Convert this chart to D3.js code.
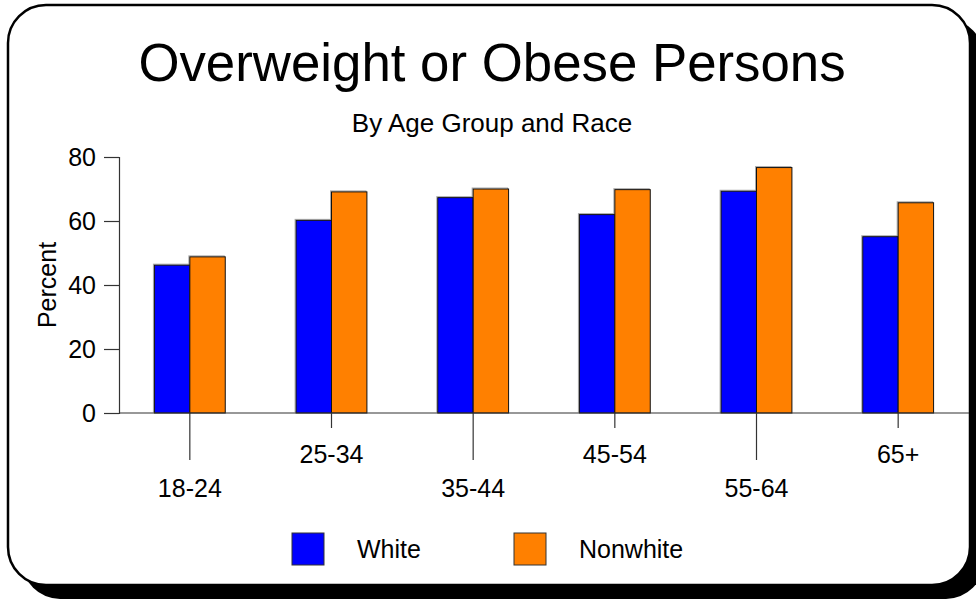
<!DOCTYPE html>
<html>
<head>
<meta charset="utf-8">
<script src="https://cdn.jsdelivr.net/npm/d3@7"></script>
<style>
  html, body { margin: 0; padding: 0; background: #fff; }
  svg { display: block; font-family: Arial, "Liberation Sans", Helvetica, sans-serif; }
</style>
</head>
<body>
<svg id="chart" width="976" height="600"></svg>
<script>
// Age groups and survey percentages by race
const ageGroups = ["18-24", "25-34", "35-44", "45-54", "55-64", "65+"];
const seriesNames = ["White", "Nonwhite"];
const whiteValues = [46.2, 60.2, 67.3, 62.0, 69.3, 55.1];
const nonwhiteValues = [48.8, 69.1, 70.0, 69.8, 76.7, 65.7];
const yTicks = [0, 20, 40, 60, 80];
const seriesColors = ["#0000ff", "#ff8000"];

const seriesValues = [whiteValues, nonwhiteValues];
const rows = ageGroups.map((g, i) => ({
  group: g,
  values: seriesNames.map((s, j) => ({ series: s, value: seriesValues[j][i], color: seriesColors[j] }))
}));

const svg = d3.select("#chart");

// Card with a drop shadow
svg.append("rect")
  .attr("x", 22).attr("y", 19).attr("width", 962).attr("height", 580)
  .attr("rx", 38).attr("ry", 38).attr("fill", "#000");
svg.append("rect")
  .attr("x", 8).attr("y", 5).attr("width", 962).attr("height", 580)
  .attr("rx", 38).attr("ry", 38).attr("fill", "#fff")
  .attr("stroke", "#000").attr("stroke-width", 2.5);

// Titles
svg.append("text")
  .attr("x", 492).attr("y", 81).attr("text-anchor", "middle")
  .attr("font-size", 52.8).attr("fill", "#000")
  .text("Overweight or Obese Persons");
svg.append("text")
  .attr("x", 492).attr("y", 132).attr("text-anchor", "middle")
  .attr("font-size", 26).attr("fill", "#000")
  .text("By Age Group and Race");

// Plot area
const plotLeft = 119, plotRight = 969, plotTop = 157, plotBottom = 413;

const x = d3.scaleBand().domain(ageGroups).range([plotLeft, plotRight]).paddingInner(0).paddingOuter(0);
const xInner = d3.scaleBand().domain(seriesNames).range([0, x.bandwidth()]).paddingInner(0).paddingOuter(1);
const y = d3.scaleLinear().domain([0, 80]).range([plotBottom, plotTop]);

// Bars
const groups = svg.append("g").selectAll("g")
  .data(rows).join("g")
  .attr("transform", d => `translate(${x(d.group)},0)`);

// faint edge behind each bar
groups.selectAll("rect.edge")
  .data(d => d.values).join("rect")
  .attr("class", "edge")
  .attr("x", d => xInner(d.series) - 1)
  .attr("y", d => y(d.value) - 1)
  .attr("width", xInner.bandwidth())
  .attr("height", d => y(0) - y(d.value))
  .attr("fill", "none")
  .attr("stroke", "#aaa").attr("stroke-width", 1);

groups.selectAll("rect.bar")
  .data(d => d.values).join("rect")
  .attr("class", "bar")
  .attr("x", d => xInner(d.series))
  .attr("y", d => y(d.value))
  .attr("width", xInner.bandwidth())
  .attr("height", d => y(0) - y(d.value))
  .attr("fill", d => d.color)
  .attr("stroke", "#111").attr("stroke-width", 1);

// Y axis
const yAxis = d3.axisLeft(y).tickValues(yTicks).tickSize(15).tickPadding(8);
const gy = svg.append("g").attr("transform", `translate(${plotLeft},0)`).call(yAxis);
gy.select(".domain").attr("stroke", "#333").attr("stroke-width", 1.2);
gy.selectAll(".tick line").attr("stroke", "#333").attr("stroke-width", 1.2);
gy.selectAll(".tick text").attr("font-size", 25).attr("fill", "#000")
  .attr("font-family", "Arial, 'Liberation Sans', sans-serif");

// X baseline
svg.append("line")
  .attr("x1", plotLeft).attr("x2", plotRight).attr("y1", plotBottom).attr("y2", plotBottom)
  .attr("stroke", "#333").attr("stroke-width", 1.2);

// X ticks and staggered labels
const xt = svg.append("g").selectAll("g")
  .data(ageGroups).join("g")
  .attr("transform", d => `translate(${x(d) + x.bandwidth() / 2},${plotBottom})`);
xt.append("line")
  .attr("y1", 0).attr("y2", (d, i) => i % 2 === 0 ? 47 : 15)
  .attr("stroke", "#333").attr("stroke-width", 1.2);
xt.append("text")
  .attr("y", (d, i) => i % 2 === 0 ? 84 : 50)
  .attr("text-anchor", "middle")
  .attr("font-size", 25).attr("fill", "#000")
  .text(d => d);

// Y axis title
svg.append("text")
  .attr("transform", `translate(56,${(plotTop + plotBottom) / 2}) rotate(-90)`)
  .attr("text-anchor", "middle")
  .attr("font-size", 25).attr("fill", "#000")
  .text("Percent");

// Legend
const legendX = [292, 514];
const legend = svg.append("g").selectAll("g")
  .data(seriesNames).join("g")
  .attr("transform", (d, i) => `translate(${legendX[i]},533)`);
legend.append("rect")
  .attr("width", 32).attr("height", 32)
  .attr("fill", (d, i) => seriesColors[i])
  .attr("stroke", "#333").attr("stroke-width", 1);
legend.append("text")
  .attr("x", 65).attr("y", 25)
  .attr("font-size", 25).attr("fill", "#000")
  .text(d => d);
</script>
</body>
</html>
